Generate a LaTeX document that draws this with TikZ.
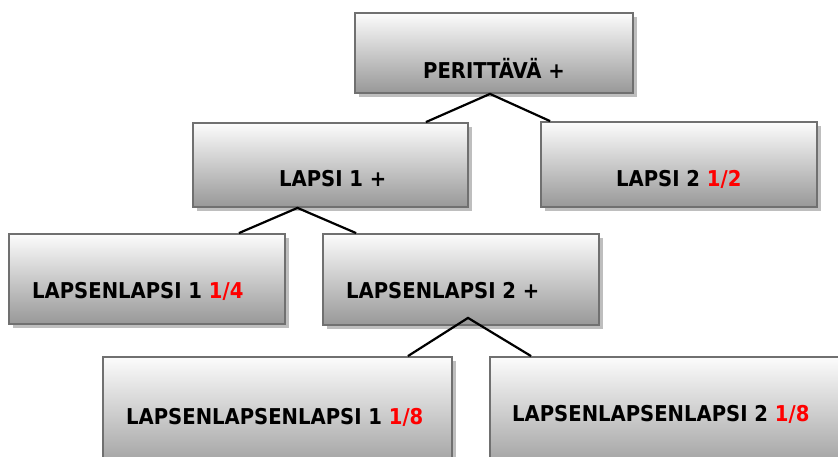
\documentclass[tikz,border=0pt]{standalone}
\usepackage{fontspec}
\setmainfont{DejaVu Sans Condensed}
\usetikzlibrary{shadows}
\definecolor{boxtop}{RGB}{252,252,252}
\definecolor{boxbot}{RGB}{152,152,152}
\definecolor{boxline}{RGB}{112,112,112}
\definecolor{shad}{RGB}{190,190,190}
\definecolor{frac}{RGB}{255,0,0}
\tikzset{
  box/.style={rectangle, draw=boxline, line width=1.8pt, top color=boxtop, bottom color=boxbot,
    inner sep=0pt, drop shadow={shadow xshift=4pt, shadow yshift=-4pt, fill=shad, opacity=1}},
  lbl/.style={anchor=base west, inner sep=0pt, font=\fontsize{21.8}{26}\selectfont\bfseries},
  conn/.style={line width=2.2pt, black}
}
\newcommand{\fr}[1]{\textcolor{frac}{#1}}
\begin{document}
\begin{tikzpicture}[x=1pt,y=-1pt]
\useasboundingbox (0,0) rectangle (838,457);
\clip (0,0) rectangle (838,457);
\node[box, minimum width=278pt, minimum height=80pt] (P) at (494,53) {};
\node[box, minimum width=275pt, minimum height=84pt] (L1) at (330.5,165) {};
\node[box, minimum width=276pt, minimum height=85pt] (L2) at (679,164.5) {};
\node[box, minimum width=276pt, minimum height=90pt] (LL1) at (147,279) {};
\node[box, minimum width=276pt, minimum height=91pt] (LL2) at (461,279.5) {};
\node[box, minimum width=349pt, minimum height=120pt] (LLL1) at (277.5,417) {};
\node[box, minimum width=360pt, minimum height=120pt] (LLL2) at (670,417) {};

\node[lbl] (tP) at (423,79) {PERITTÄVÄ +};
\node[lbl] (tL1) at (279,187) {LAPSI 1 +};
\node[lbl] (tL2) at (616,187) {LAPSI 2 \fr{1/2}};
\node[lbl] (tLL1) at (32,298) {LAPSENLAPSI 1 \fr{1/4}};
\node[lbl] (tLL2) at (346,298) {LAPSENLAPSI 2 +};
\node[lbl] (tLLL1) at (126,424) {LAPSENLAPSENLAPSI 1 \fr{1/8}};
\node[lbl] (tLLL2) at (512,421) {LAPSENLAPSENLAPSI 2 \fr{1/8}};

\coordinate (aP) at ([xshift=-4pt]P.south);
\coordinate (aL1) at ([xshift=-33pt]L1.south);
\coordinate (aLL2) at ([xshift=7pt,yshift=8pt]LL2.south);

\draw[conn] ([xshift=-43pt]L1.north east) -- (aP) -- ([xshift=10pt]L2.north west);
\draw[conn] ([xshift=-47pt]LL1.north east) -- (aL1) -- ([xshift=34pt]LL2.north west);
\draw[conn] ([xshift=-45pt]LLL1.north east) -- (aLL2) -- ([xshift=42pt]LLL2.north west);
\end{tikzpicture}
\end{document}
